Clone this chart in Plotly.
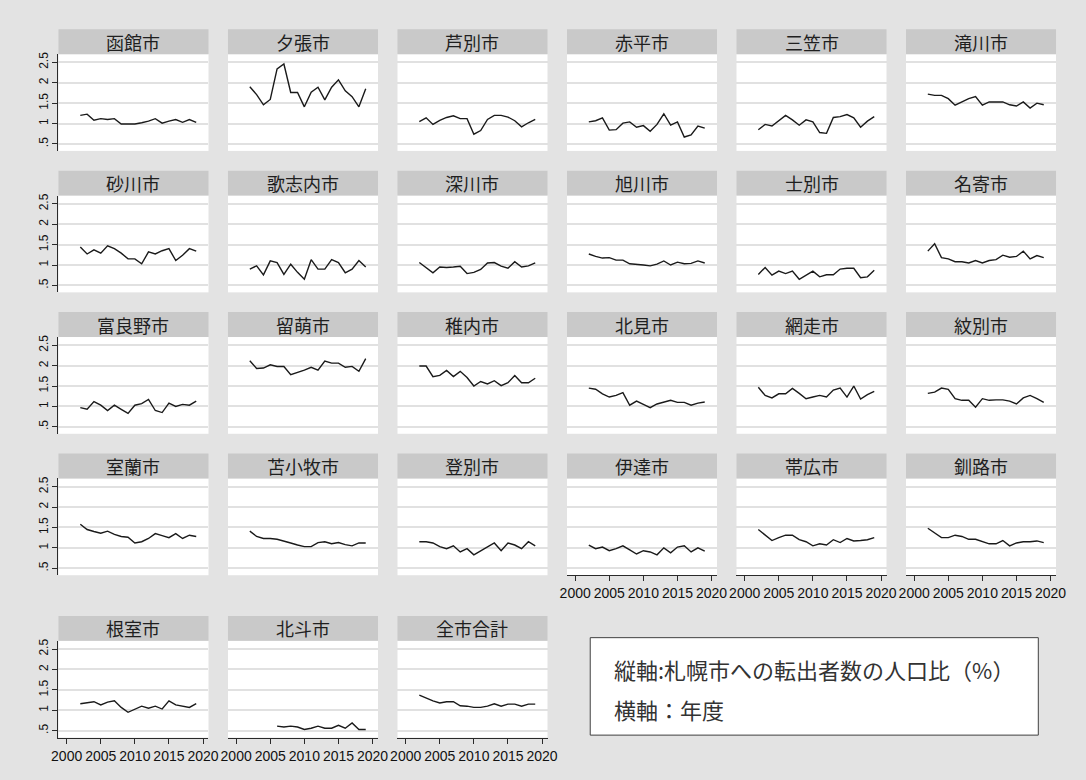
import plotly.graph_objects as go

# ---------------- data ----------------
years = list(range(2002, 2020))
years_hokuto = list(range(2006, 2020))

hakodate = [1.20, 1.23, 1.08, 1.12, 1.10, 1.12, 0.99, 0.99, 0.99, 1.02, 1.06, 1.12, 1.01, 1.06, 1.10, 1.03, 1.10, 1.03]
yubari = [1.90, 1.71, 1.46, 1.59, 2.34, 2.46, 1.76, 1.76, 1.41, 1.77, 1.89, 1.58, 1.89, 2.07, 1.80, 1.66, 1.41, 1.85]
ashibetsu = [1.05, 1.14, 0.98, 1.08, 1.15, 1.19, 1.12, 1.12, 0.74, 0.83, 1.10, 1.20, 1.20, 1.16, 1.07, 0.92, 1.02, 1.10]
akabira = [1.04, 1.07, 1.14, 0.84, 0.85, 1.01, 1.04, 0.91, 0.95, 0.81, 0.98, 1.24, 0.96, 1.04, 0.67, 0.72, 0.94, 0.89]
mikasa = [0.85, 0.98, 0.94, 1.07, 1.20, 1.09, 0.96, 1.09, 1.04, 0.78, 0.76, 1.15, 1.17, 1.22, 1.14, 0.91, 1.06, 1.17]
takikawa = [1.72, 1.69, 1.69, 1.61, 1.45, 1.54, 1.61, 1.66, 1.45, 1.53, 1.53, 1.53, 1.46, 1.43, 1.53, 1.38, 1.50, 1.46]
sunagawa = [1.44, 1.27, 1.37, 1.29, 1.47, 1.40, 1.29, 1.15, 1.15, 1.03, 1.32, 1.27, 1.35, 1.40, 1.11, 1.24, 1.40, 1.34]
utashinai = [0.90, 0.98, 0.76, 1.10, 1.06, 0.77, 1.02, 0.82, 0.65, 1.13, 0.90, 0.90, 1.13, 1.06, 0.81, 0.90, 1.11, 0.95]
fukagawa = [1.06, 0.94, 0.81, 0.95, 0.94, 0.95, 0.97, 0.79, 0.82, 0.89, 1.05, 1.06, 0.97, 0.92, 1.08, 0.95, 0.98, 1.05]
asahikawa = [1.27, 1.21, 1.17, 1.18, 1.12, 1.12, 1.03, 1.02, 1.00, 0.98, 1.02, 1.10, 1.00, 1.07, 1.03, 1.04, 1.10, 1.05]
shibetsu = [0.77, 0.94, 0.75, 0.85, 0.79, 0.85, 0.65, 0.76, 0.85, 0.71, 0.76, 0.76, 0.90, 0.92, 0.92, 0.69, 0.71, 0.87]
nayoro = [1.34, 1.52, 1.18, 1.15, 1.08, 1.08, 1.05, 1.11, 1.05, 1.11, 1.13, 1.24, 1.19, 1.21, 1.34, 1.15, 1.23, 1.18]
furano = [0.97, 0.93, 1.12, 1.03, 0.90, 1.03, 0.93, 0.83, 1.03, 1.07, 1.17, 0.90, 0.85, 1.08, 1.00, 1.05, 1.03, 1.13]
rumoi = [2.12, 1.93, 1.94, 2.02, 1.98, 1.98, 1.78, 1.83, 1.89, 1.96, 1.89, 2.11, 2.06, 2.06, 1.96, 1.98, 1.86, 2.17]
wakkanai = [1.99, 1.99, 1.73, 1.76, 1.88, 1.73, 1.86, 1.71, 1.50, 1.61, 1.55, 1.63, 1.51, 1.58, 1.76, 1.58, 1.58, 1.69]
kitami = [1.45, 1.42, 1.31, 1.23, 1.27, 1.34, 1.03, 1.13, 1.05, 0.97, 1.06, 1.11, 1.15, 1.10, 1.10, 1.03, 1.08, 1.11]
abashiri = [1.47, 1.27, 1.21, 1.31, 1.31, 1.44, 1.32, 1.19, 1.23, 1.27, 1.23, 1.40, 1.45, 1.23, 1.50, 1.18, 1.29, 1.37]
monbetsu = [1.32, 1.35, 1.45, 1.42, 1.19, 1.15, 1.15, 0.98, 1.19, 1.15, 1.16, 1.16, 1.13, 1.06, 1.21, 1.27, 1.19, 1.10]
muroran = [1.58, 1.45, 1.40, 1.36, 1.41, 1.33, 1.28, 1.26, 1.12, 1.15, 1.23, 1.35, 1.30, 1.25, 1.35, 1.23, 1.31, 1.28]
tomakomai = [1.41, 1.28, 1.23, 1.23, 1.21, 1.17, 1.12, 1.07, 1.03, 1.03, 1.13, 1.15, 1.10, 1.13, 1.08, 1.05, 1.12, 1.12]
noboribetsu = [1.15, 1.15, 1.12, 1.03, 0.98, 1.05, 0.90, 0.98, 0.83, 0.92, 1.02, 1.12, 0.93, 1.12, 1.07, 0.98, 1.15, 1.05]
date_city = [1.07, 0.98, 1.02, 0.93, 0.98, 1.05, 0.95, 0.85, 0.93, 0.90, 0.83, 1.00, 0.88, 1.02, 1.05, 0.90, 1.00, 0.92]
obihiro = [1.45, 1.31, 1.18, 1.25, 1.31, 1.31, 1.20, 1.15, 1.05, 1.10, 1.07, 1.20, 1.13, 1.23, 1.17, 1.18, 1.20, 1.25]
kushiro = [1.48, 1.36, 1.25, 1.25, 1.31, 1.28, 1.21, 1.21, 1.15, 1.10, 1.10, 1.18, 1.05, 1.12, 1.15, 1.15, 1.17, 1.13]
nemuro = [1.16, 1.18, 1.21, 1.13, 1.20, 1.23, 1.07, 0.95, 1.03, 1.10, 1.05, 1.10, 1.03, 1.23, 1.13, 1.10, 1.07, 1.16]
hokuto = [0.61, 0.59, 0.61, 0.59, 0.53, 0.56, 0.61, 0.56, 0.56, 0.63, 0.56, 0.69, 0.53, 0.53]
all_cities = [1.37, 1.29, 1.23, 1.18, 1.21, 1.21, 1.11, 1.10, 1.07, 1.07, 1.10, 1.16, 1.10, 1.15, 1.15, 1.10, 1.15, 1.15]

panels = [
    ("函館市", years, hakodate), ("夕張市", years, yubari), ("芦別市", years, ashibetsu),
    ("赤平市", years, akabira), ("三笠市", years, mikasa), ("滝川市", years, takikawa),
    ("砂川市", years, sunagawa), ("歌志内市", years, utashinai), ("深川市", years, fukagawa),
    ("旭川市", years, asahikawa), ("士別市", years, shibetsu), ("名寄市", years, nayoro),
    ("富良野市", years, furano), ("留萌市", years, rumoi), ("稚内市", years, wakkanai),
    ("北見市", years, kitami), ("網走市", years, abashiri), ("紋別市", years, monbetsu),
    ("室蘭市", years, muroran), ("苫小牧市", years, tomakomai), ("登別市", years, noboribetsu),
    ("伊達市", years, date_city), ("帯広市", years, obihiro), ("釧路市", years, kushiro),
    ("根室市", years, nemuro), ("北斗市", years_hokuto, hokuto), ("全市合計", years, all_cities),
]

x_ticks = [2000, 2005, 2010, 2015, 2020]
y_ticks = [0.5, 1, 1.5, 2, 2.5]
y_tick_text = [".5", "1", "1.5", "2", "2.5"]

note_line1 = "縦軸:札幌市への転出者数の人口比（%）"
note_line2 = "横軸：年度"

# ---------------- layout geometry (pixels) ----------------
W, H = 1086, 780
COL_LEFT0, COL_STEP, COL_W = 52.3, 172.2, 152.4
ROW_TOPS = [27.3, 169.1, 310.9, 452.7, 615.5]
STRIP_H, PLOT_H = 25.0, 97.0

BG = "#e3e3e3"
STRIP = "#c9c9c9"
GRID = "#e1e1e1"
AX = "#2a2a2a"
XTICKFONT = dict(family="Arial, Liberation Sans, sans-serif", size=14, color="#111111")
YTICKFONT = dict(family="Arial, Liberation Sans, sans-serif", size=12, color="#111111")


def px_x(x):
    return x / W


def px_y(y):
    return 1 - y / H


fig = go.Figure()
layout = dict(
    width=W, height=H,
    margin=dict(l=0, r=0, t=0, b=0),
    paper_bgcolor=BG, plot_bgcolor="white",
    showlegend=False,
)
shapes = []
annotations = []

for i, (name, xs, ys) in enumerate(panels):
    r, c = divmod(i, 6)
    left = COL_LEFT0 + COL_STEP * c
    right = left + COL_W
    strip_top = ROW_TOPS[r]
    plot_top = strip_top + STRIP_H
    plot_bot = plot_top + PLOT_H
    sfx = "" if i == 0 else str(i + 1)
    show_x = (r == 4) or (r == 3 and c >= 3)
    show_y = (c == 0)

    fig.add_trace(go.Scatter(
        x=xs, y=ys, mode="lines",
        line=dict(color="#1a1a1a", width=1.4),
        xaxis="x" + sfx, yaxis="y" + sfx, hoverinfo="x+y",
    ))

    layout["xaxis" + sfx] = dict(
        domain=[px_x(left), px_x(right)], anchor="y" + sfx,
        range=[1998.8, 2020.8], showgrid=False, zeroline=False,
        tickmode="array", tickvals=x_ticks,
        showticklabels=show_x, showline=show_x, linecolor=AX, linewidth=1.2,
        ticks="outside" if show_x else "", ticklen=5, tickcolor=AX, tickwidth=1.2,
        tickfont=XTICKFONT, fixedrange=True,
    )
    layout["yaxis" + sfx] = dict(
        domain=[px_y(plot_bot), px_y(plot_top)], anchor="x" + sfx,
        range=[0.33, 2.70], zeroline=False,
        tickmode="array", tickvals=y_ticks, ticktext=y_tick_text,
        showgrid=True, gridcolor=GRID, gridwidth=1.6,
        showticklabels=show_y, showline=show_y, linecolor=AX, linewidth=1.2,
        ticks="outside" if show_y else "", ticklen=5, tickcolor=AX, tickwidth=1.2,
        tickangle=-90, tickfont=YTICKFONT,
        fixedrange=True,
    )

    shapes.append(dict(
        type="rect", xref="paper", yref="paper", layer="below",
        x0=px_x(left), x1=px_x(right), y0=px_y(plot_top), y1=px_y(strip_top),
        fillcolor=STRIP, line=dict(width=0),
    ))
    annotations.append(dict(
        xref="paper", yref="paper",
        x=px_x(left + COL_W / 2), y=px_y(strip_top + STRIP_H / 2),
        text=name, showarrow=False, xanchor="center", yanchor="middle",
        font=dict(family="Noto Sans CJK JP", size=18, color="#1f1f1f"),
    ))

# note box
BOX_L, BOX_R, BOX_T, BOX_B = 592.5, 1047.7, 637.3, 735.0
shapes.append(dict(
    type="rect", xref="paper", yref="paper",
    x0=px_x(BOX_L), x1=px_x(BOX_R), y0=px_y(BOX_B), y1=px_y(BOX_T),
    fillcolor="white", line=dict(color="#404040", width=1),
))
annotations.append(dict(
    xref="paper", yref="paper", x=px_x(615), y=px_y(668.5),
    text=note_line1, showarrow=False, xanchor="left", yanchor="middle",
    font=dict(family="Noto Sans CJK JP", size=22, color="#333333"),
))
annotations.append(dict(
    xref="paper", yref="paper", x=px_x(615), y=px_y(708.5),
    text=note_line2, showarrow=False, xanchor="left", yanchor="middle",
    font=dict(family="Noto Sans CJK JP", size=22, color="#333333"),
))

layout["shapes"] = shapes
layout["annotations"] = annotations
fig.update_layout(**layout)

fig.write_html("out.html")
